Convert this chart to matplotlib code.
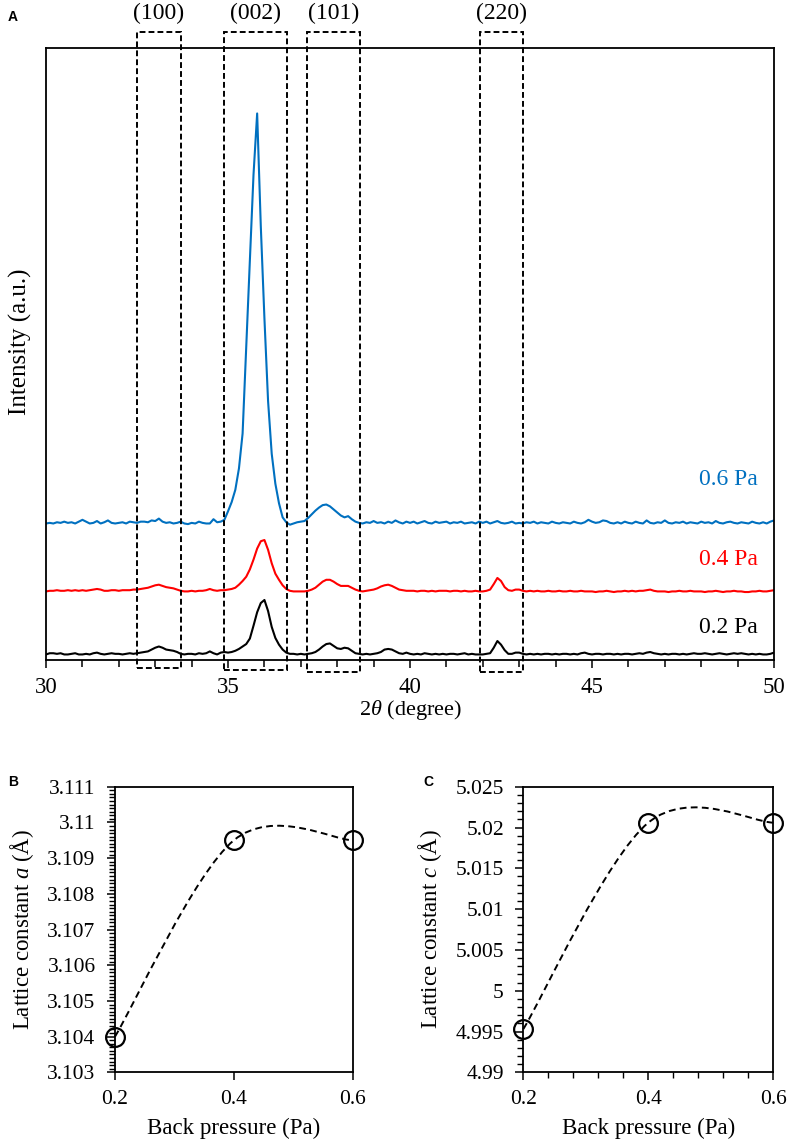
import numpy as np
import matplotlib
matplotlib.use("Agg")
import matplotlib.pyplot as plt
from matplotlib.path import Path
from matplotlib.patches import PathPatch, Rectangle
from matplotlib.ticker import MultipleLocator, FuncFormatter
import matplotlib.transforms as mtransforms

plt.rcParams["font.family"] = ["Liberation Serif", "DejaVu Serif"]
plt.rcParams["mathtext.fontset"] = "custom"
plt.rcParams["mathtext.rm"] = "Liberation Serif"
plt.rcParams["mathtext.it"] = "Liberation Serif:italic"

# ---- panel A: XRD patterns (2theta grid 30..50 step 0.1) ----
two_theta = np.round(np.arange(30.0, 50.05, 0.1), 1)

xrd_02 = [
    0.1, 0.3, 0.3, 0.2, 0.3, 0.1, 0.1, 0.2, 0.3, 0.1,
    0.1, 0.2, 0.1, 0.3, 0.4, 0.2, 0.1, 0.2, 0.3, 0.2,
    0.2, 0.1, 0.2, 0.3, 0.2, 0.3, 0.4, 0.5, 0.6, 0.9,
    1.2, 1.4, 1.2, 0.9, 0.8, 0.7, 0.5, 0.2, 0.1, 0.2,
    0.2, 0.1, 0.3, 0.2, 0.3, 0.6, 0.3, 0.1, 0.4, 0.5,
    0.4, 0.5, 0.7, 1.0, 1.4, 1.8, 2.7, 4.8, 7.0, 8.5,
    9.0, 7.2, 4.6, 2.8, 1.7, 0.9, 0.4, 0.2, 0.2, 0.1,
    0.2, 0.1, 0.2, 0.3, 0.5, 0.9, 1.4, 1.8, 1.9, 1.5,
    1.1, 1.0, 1.2, 1.1, 0.7, 0.3, 0.2, 0.1, 0.2, 0.1,
    0.2, 0.3, 0.5, 0.9, 1.0, 0.9, 0.6, 0.3, 0.2, 0.4,
    0.2, 0.1, 0.2, 0.1, 0.3, 0.2, 0.1, 0.2, 0.1, 0.2,
    0.1, 0.2, 0.2, 0.1, 0.2, 0.3, 0.1, 0.2, 0.1, 0.1,
    0.1, 0.2, 0.3, 1.2, 2.3, 1.7, 0.8, 0.2, 0.2, 0.4,
    0.4, 0.2, 0.1, 0.2, 0.1, 0.2, 0.1, 0.2, 0.2, 0.1,
    0.2, 0.1, 0.2, 0.2, 0.1, 0.2, 0.1, 0.3, 0.4, 0.2,
    0.1, 0.2, 0.2, 0.1, 0.2, 0.2, 0.1, 0.2, 0.1, 0.2,
    0.2, 0.1, 0.2, 0.3, 0.2, 0.4, 0.5, 0.3, 0.2, 0.1,
    0.2, 0.1, 0.2, 0.2, 0.1, 0.2, 0.1, 0.2, 0.3, 0.2,
    0.2, 0.3, 0.2, 0.1, 0.2, 0.3, 0.2, 0.1, 0.2, 0.3,
    0.2, 0.3, 0.2, 0.1, 0.2, 0.1, 0.2, 0.1, 0.1, 0.2,
    0.4,
]

xrd_04 = [
    0.0, 0.1, 0.1, 0.2, 0.1, 0.1, 0.2, 0.1, 0.2, 0.1,
    0.2, 0.1, 0.2, 0.3, 0.4, 0.3, 0.1, 0.1, 0.2, 0.2,
    0.1, 0.2, 0.2, 0.2, 0.3, 0.3, 0.4, 0.5, 0.6, 0.8,
    1.0, 1.1, 0.9, 0.7, 0.6, 0.5, 0.3, 0.1, 0.0, 0.0,
    0.1, 0.0, 0.1, 0.1, 0.2, 0.4, 0.2, 0.1, 0.2, 0.2,
    0.3, 0.4, 0.6, 1.1, 1.7, 2.4, 3.6, 5.2, 7.0, 8.2,
    8.4, 6.8, 4.6, 2.9, 1.9, 1.0, 0.4, 0.1, 0.0, 0.0,
    0.0, 0.0, 0.1, 0.3, 0.6, 1.1, 1.6, 1.9, 1.9, 1.6,
    1.2, 0.9, 0.9, 0.9, 0.6, 0.3, 0.1, 0.0, 0.1, 0.2,
    0.3, 0.5, 0.8, 1.0, 1.1, 0.9, 0.6, 0.3, 0.2, 0.1,
    0.1, 0.1, 0.0, 0.1, 0.1, 0.0, 0.1, 0.0, 0.1, 0.1,
    0.1, 0.0, 0.1, 0.1, 0.0, 0.1, 0.0, 0.0, 0.1, 0.0,
    0.0, 0.1, 0.3, 1.2, 2.2, 1.7, 0.7, 0.2, 0.1, 0.3,
    0.3, 0.1, 0.0, 0.1, 0.0, 0.1, 0.0, 0.0, 0.1, 0.0,
    0.0, 0.1, 0.0, 0.0, 0.1, 0.0, 0.0, 0.1, 0.0, 0.0,
    0.0, -0.1, 0.0, 0.0, 0.1, 0.0, -0.1, 0.0, 0.0, 0.1,
    0.0, 0.1, 0.0, 0.1, 0.1, 0.2, 0.3, 0.1, 0.0, 0.0,
    0.0, -0.1, 0.0, 0.0, 0.1, 0.0, 0.0, 0.1, 0.0, 0.0,
    0.0, -0.1, 0.0, 0.0, 0.1, 0.0, -0.1, 0.0, 0.0, 0.1,
    0.0, 0.0, -0.1, -0.1, 0.0, 0.0, 0.1, 0.0, 0.0, 0.1,
    0.2,
]

xrd_06 = [
    0.0, 0.1, 0.0, 0.2, 0.1, 0.3, 0.1, 0.2, 0.0, 0.3,
    0.6, 0.3, 0.0, 0.1, 0.4, 0.0, 0.2, 0.5, 0.1, 0.0,
    0.1, 0.2, 0.0, 0.3, 0.2, 0.1, 0.3, 0.3, 0.2, 0.5,
    0.4, 0.8, 0.3, 0.1, 0.2, 0.0, 0.1, 0.3, 0.0, -0.1,
    0.1, 0.0, 0.3, 0.1, 0.0, 0.0, 0.7, 0.2, 0.3, 0.6,
    2.0, 3.5, 5.5, 9.0, 14.7, 29.0, 43.0, 57.0, 67.0, 48.6,
    33.5, 20.0, 11.4, 6.5, 3.3, 1.0, 0.2, -0.2, 0.0, 0.2,
    0.3, 0.4, 0.9, 1.5, 2.1, 2.6, 3.0, 3.1, 2.8, 2.3,
    1.8, 1.3, 1.0, 1.2, 0.7, 0.3, 0.1, 0.0, 0.2, 0.1,
    0.4, 0.1, 0.2, 0.0, 0.3, 0.1, 0.5, 0.2, 0.0, 0.3,
    0.1, 0.3, 0.0, 0.2, 0.4, 0.1, 0.0, 0.3, 0.1, 0.2,
    0.3, 0.0, 0.2, 0.1, 0.3, 0.0, 0.1, 0.2, 0.0, 0.3,
    0.1, 0.3, 0.0, 0.2, 0.4, 0.1, 0.0, 0.1, 0.3, 0.0,
    0.1, 0.0, 0.2, 0.1, 0.3, 0.0, 0.2, 0.1, 0.0, 0.3,
    0.1, 0.0, 0.2, 0.1, 0.0, 0.3, 0.1, 0.0, 0.2, 0.6,
    0.3, 0.1, 0.2, 0.5, 0.4, 0.1, 0.0, 0.2, 0.0, 0.3,
    0.1, 0.0, 0.3, 0.1, 0.0, 0.5, 0.1, 0.0, 0.2, 0.1,
    0.5, 0.1, 0.0, 0.2, 0.1, 0.3, 0.0, 0.2, 0.1, 0.0,
    0.3, 0.1, 0.2, 0.0, 0.4, 0.1, 0.0, 0.2, 0.3, 0.1,
    0.0, 0.2, 0.1, 0.0, 0.3, 0.1, 0.0, 0.2, 0.0, 0.3,
    0.5,
]

trace_labels = ["0.2 Pa", "0.4 Pa", "0.6 Pa"]
trace_colors = ["black", "#ff0000", "#0070c0"]
trace_offsets = [0.8, 11.2, 22.3]

hkl_labels = ["(100)", "(002)", "(101)", "(220)"]
hkl_ranges = [(32.5, 33.7), (34.9, 36.63), (37.17, 38.62), (41.91, 43.11)]

# ---- panels B, C: lattice constants ----
pressure = [0.2, 0.4, 0.6]
lattice_a = [3.1040, 3.1095, 3.1095]
lattice_c = [4.9953, 5.0206, 5.0206]

SERIF = ["Liberation Serif", "DejaVu Serif"]


def smooth_path(xs, ys):
    # Excel-like smoothed line as Bezier segments (Catmull-Rom control points)
    pts = np.column_stack([xs, ys])
    n = len(pts)
    verts = [pts[0]]
    codes = [Path.MOVETO]
    for i in range(n - 1):
        p0 = pts[max(i - 1, 0)]
        p1 = pts[i]
        p2 = pts[i + 1]
        p3 = pts[min(i + 2, n - 1)]
        c1 = p1 + (p2 - p0) / 6.0
        c2 = p2 - (p3 - p1) / 6.0
        verts += [c1, c2, p2]
        codes += [Path.CURVE4] * 3
    return Path(verts, codes)


def fmt_g(v, pos):
    return f"{v:.4g}" if abs(v) >= 1 else f"{v:g}"


fig = plt.figure(figsize=(7.87, 11.42), dpi=100)

# ---------- A ----------
ax = fig.add_axes([0.0585, 0.4221, 0.925, 0.5359])
for vals, col, off in zip([xrd_02, xrd_04, xrd_06], trace_colors, trace_offsets):
    ax.plot(two_theta, np.array(vals) + off, color=col, lw=1.5)

ax.set_xlim(30, 50)
ax.set_ylim(0, 100)
ax.set_yticks([])
ax.xaxis.set_major_locator(MultipleLocator(5))
ax.xaxis.set_minor_locator(MultipleLocator(1))
ax.tick_params(axis="x", which="major", direction="out", length=6, width=1.1,
               labelsize=16.5, pad=6, labelfontfamily="Liberation Serif")
ax.tick_params(axis="x", which="minor", direction="out", length=5, width=1.1)
for s in ax.spines.values():
    s.set_linewidth(1.3)
ax.set_xlabel("2$\\mathit{\\theta}$ (degree)", fontsize=16, labelpad=0)
ax.set_ylabel("Intensity (a.u.)", fontsize=18)
ax.yaxis.set_label_coords(-0.019, 0.52)

trans = mtransforms.blended_transform_factory(ax.transData, ax.transAxes)
box_bottoms = [-0.013, -0.016, -0.019, -0.019]
for (x0, x1), lab, yb in zip(hkl_ranges, hkl_labels, box_bottoms):
    rect = Rectangle((x0, yb), x1 - x0, 1.026 - yb, transform=trans, fill=False,
                     ec="black", lw=1.4, ls=(0, (3, 1.6)), clip_on=False, zorder=5)
    ax.add_patch(rect)
    ax.text((x0 + x1) / 2, 1.057, lab, transform=trans, ha="center", va="center",
            fontsize=17)

label_y = [(660 - 628) / 612, (660 - 560) / 612, (660 - 480) / 612]
for lab, col, yy in zip(trace_labels, trace_colors, label_y):
    ax.text(49.55, yy, lab, transform=trans, color=col, ha="right", va="center",
            fontsize=17)

# ---------- B and C ----------
def lattice_panel(rect, yvals, ylo, yhi, ymaj, ymin, ylabel, xminor):
    a = fig.add_axes(rect)
    a.add_patch(PathPatch(smooth_path(pressure, yvals), fill=False, ec="black",
                          lw=1.4, ls=(0, (3.5, 2.2)), clip_on=False))
    a.plot(pressure, yvals, ls="none", marker="o", ms=13.5, mfc="none",
           mec="black", mew=1.6, clip_on=False, zorder=4)
    a.set_xlim(0.2, 0.6)
    a.set_ylim(ylo, yhi)
    a.set_xticks(pressure)
    if xminor:
        a.xaxis.set_minor_locator(MultipleLocator(0.04))
    a.yaxis.set_major_locator(MultipleLocator(ymaj))
    a.yaxis.set_minor_locator(MultipleLocator(ymin))
    a.yaxis.set_major_formatter(FuncFormatter(fmt_g))
    a.xaxis.set_major_formatter(FuncFormatter(lambda v, p: f"{v:g}"))
    a.tick_params(which="major", direction="out", length=6, width=1.1,
                  labelsize=15.5, labelfontfamily="Liberation Serif")
    a.tick_params(axis="y", which="major", pad=8)
    a.tick_params(axis="x", which="major", pad=7)
    a.tick_params(which="minor", direction="out", length=4, width=1.0)
    for s in a.spines.values():
        s.set_linewidth(1.3)
    a.set_xlabel("Back pressure (Pa)", fontsize=16.5, labelpad=6)
    a.set_ylabel(ylabel, fontsize=16.5, labelpad=8)
    return a


lattice_panel([0.1461, 0.0610, 0.3021, 0.2501], lattice_a, 3.103, 3.111,
              0.001, 0.0001, "Lattice constant $\\mathit{a}$ (Å)", False)
lattice_panel([0.6650, 0.0610, 0.3177, 0.2501], lattice_c, 4.99, 5.025,
              0.005, 0.001, "Lattice constant $\\mathit{c}$ (Å)", True)

for lab, px, py in [("A", 8, 10), ("B", 8, 775), ("C", 423, 775)]:
    fig.text(px / 787, 1 - py / 1142, lab, family="Liberation Sans",
             weight="bold", fontsize=10, ha="left", va="top")

fig.savefig("out.png", dpi=100)
